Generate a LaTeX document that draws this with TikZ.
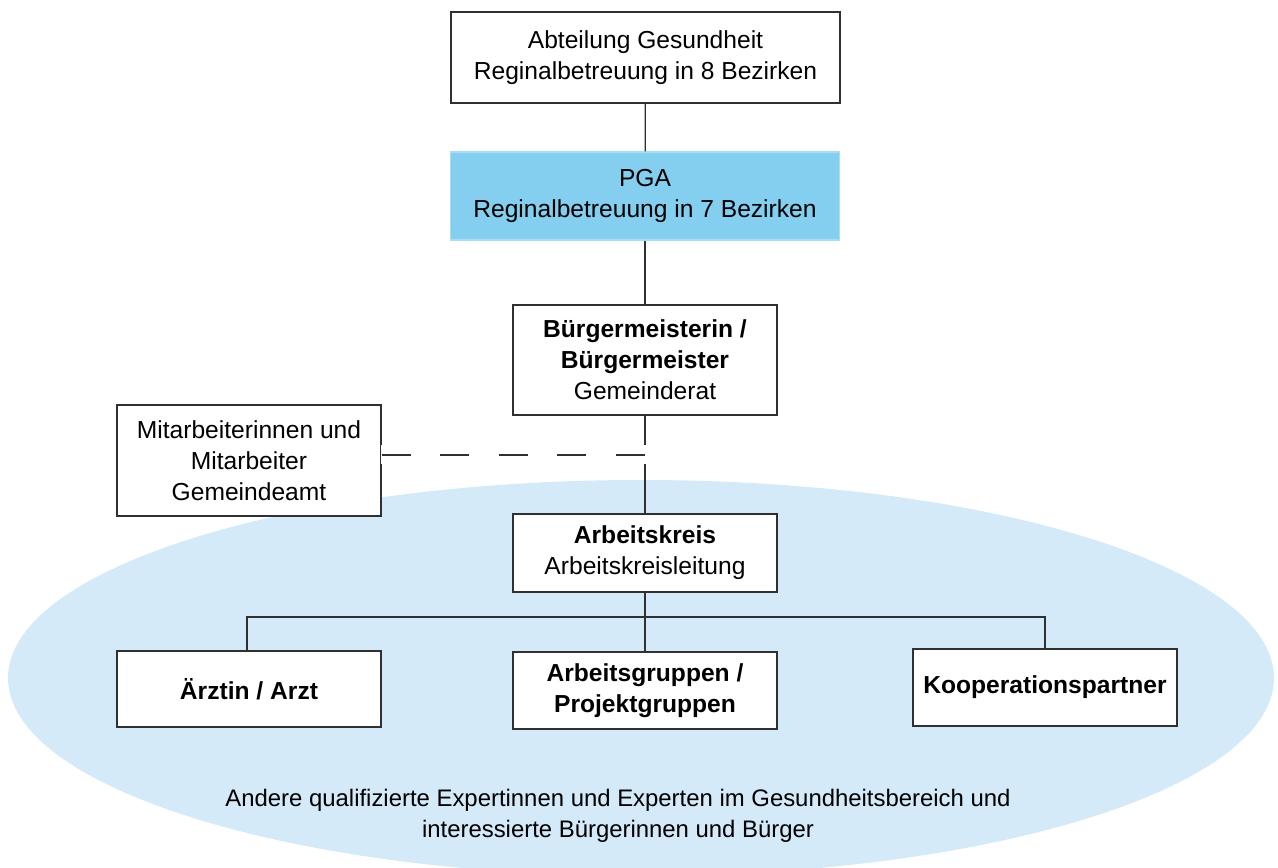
\documentclass[tikz,border=0pt]{standalone}
\usepackage{fontspec}
\setsansfont{Liberation Sans}
\usepackage{xcolor}
\usepackage{tikz}
\usetikzlibrary{positioning, calc}
\definecolor{himmel}{HTML}{84CFF0}
\definecolor{hellblau}{HTML}{D4EAF8}
\definecolor{linie}{HTML}{303030}
\tikzset{
  every picture/.style={font=\sffamily\fontsize{14}{17.6}\selectfont},
  kasten/.style={draw=linie, fill=white, line width=0.75pt, align=center,
                 minimum width=5.28cm, inner sep=2pt},
  breit/.style={kasten, minimum width=7.78cm, minimum height=1.82cm},
  pga/.style={breit, draw=himmel!70, fill=himmel, minimum height=1.76cm},
  verb/.style={draw=linie, line width=0.75pt},
  verbd/.style={verb, dash pattern=on 0.58cm off 0.59cm},
  luecke/.style={draw=white, line width=0.38cm},
}

\begin{document}
\begin{tikzpicture}
  \useasboundingbox (0,0) rectangle (25.56,-17.36);
  \clip (0,0) rectangle (25.56,-17.36);
  % Hintergrund
  \fill[hellblau] (12.82,-13.56) ellipse [x radius=12.66cm, y radius=3.96cm];
  \node[align=center, font=\sffamily\fontsize{13.6}{17.4}\selectfont] (rest) at (12.36,-16.32) {Andere qualifizierte Expertinnen und Experten im Gesundheitsbereich und\\interessierte Bürgerinnen und Bürger};

  \node[breit] (abt) at (12.91,-1.15) {Abteilung Gesundheit\\Reginalbetreuung in 8 Bezirken};
  \node[pga] (pga) at (12.90,-3.92) {PGA\\Reginalbetreuung in 7 Bezirken};
  \node[kasten, minimum height=2.20cm] (bgm) at (12.90,-7.20) {\textbf{Bürgermeisterin /}\\\textbf{Bürgermeister}\\Gemeinderat};
  \node[kasten, minimum height=2.22cm] (mit) at (4.98,-9.21) {Mitarbeiterinnen und\\Mitarbeiter\\Gemeindeamt};
  \node[kasten, minimum height=1.56cm] (ak) at (12.90,-11.06) {\textbf{Arbeitskreis}\\Arbeitskreisleitung};
  \node[kasten, minimum height=1.52cm] (arzt) at (4.98,-13.78) {\textbf{Ärztin / Arzt}};
  \node[kasten, minimum height=1.54cm] (ag) at (12.90,-13.81) {\textbf{Arbeitsgruppen /}\\\textbf{Projektgruppen}};
  \node[kasten, minimum height=1.54cm] (koop) at (20.90,-13.75) {\textbf{Kooperationspartner}};

  \coordinate (jn) at (12.90,-9.10);
  \coordinate (ast) at (12.90,-12.34);

  \draw[verb] (abt) -- (pga);
  \draw[verb] (pga) -- (bgm);
  \draw[verb] (bgm) -- (ak);
  \draw[luecke] ($(jn -| mit.east)+(-0.02,0)$) -- ($(jn)+(0.05,0)$);
  \draw[verbd] (jn -| mit.east) -- (jn);
  \draw[verb] (ak) -- (ast);
  \draw[verb] (ast) -- (ag);
  \draw[verb] (ast) -| ([xshift=-0.04cm]arzt.north);
  \draw[verb] (ast) -| (koop.north);
\end{tikzpicture}
\end{document}
